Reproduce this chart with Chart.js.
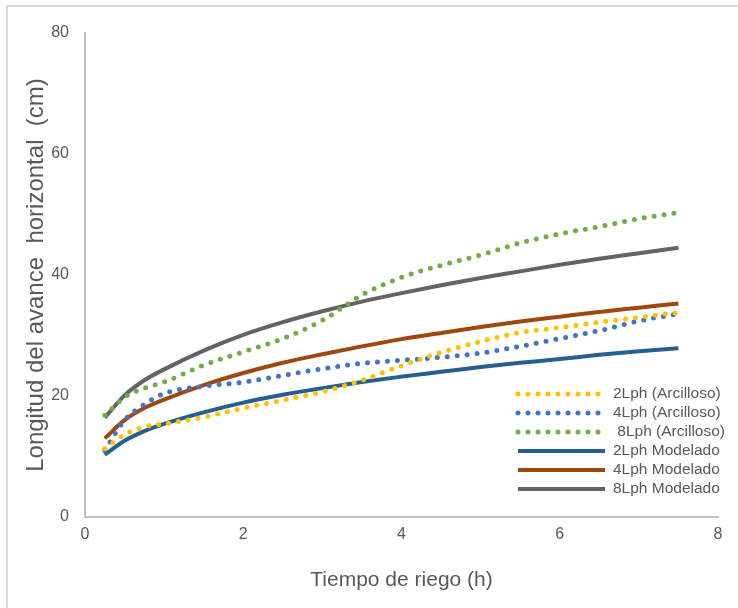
<!DOCTYPE html>
<html>
<head>
<meta charset="utf-8">
<script src="https://cdn.jsdelivr.net/npm/chart.js@4/dist/chart.umd.min.js"></script>
<style>
  body { margin: 0; background: #fff; }
  #wrap { position: relative; width: 738px; height: 608px; }
  #frame { position: absolute; left: 6px; top: 5px; width: 740px; height: 610px; border-left: 2px solid #d9d9d9; border-top: 2px solid #d9d9d9; pointer-events: none; }
</style>
</head>
<body>
<div id="wrap">
  <canvas id="riegoChart" width="738" height="608"></canvas>
  <div id="frame"></div>
</div>
<script>
// DATA
const hours = [0.25, 0.5, 0.75, 1, 1.5, 2, 2.5, 3, 3.5, 4, 4.5, 5, 5.5, 6, 6.5, 7, 7.5];

const arcilloso2 = [11.3, 13.6, 14.9, 15.4, 16.5, 18.0, 19.3, 20.7, 22.6, 25.0, 27.2, 29.0, 30.5, 31.3, 32.2, 33.0, 33.8];
const arcilloso4 = [11.0, 16.0, 18.6, 20.4, 21.6, 22.3, 23.4, 24.5, 25.4, 25.9, 26.4, 27.1, 28.2, 29.5, 30.8, 32.4, 33.6];
const arcilloso8 = [16.8, 19.8, 21.3, 22.3, 25.1, 27.3, 29.5, 32.5, 36.7, 39.6, 41.6, 43.3, 45.3, 46.8, 48.0, 49.3, 50.3];
const modelado2 = [10.3, 12.6, 14.2, 15.4, 17.3, 18.9, 20.2, 21.3, 22.3, 23.2, 24.0, 24.8, 25.5, 26.1, 26.8, 27.4, 27.9];
const modelado4 = [13.0, 16.0, 18.0, 19.4, 21.8, 23.8, 25.5, 26.9, 28.2, 29.4, 30.4, 31.4, 32.3, 33.1, 33.9, 34.6, 35.3];
const modelado8 = [16.4, 20.1, 22.6, 24.4, 27.5, 30.1, 32.2, 34.0, 35.6, 37.0, 38.3, 39.5, 40.6, 41.7, 42.7, 43.6, 44.5];

const xTicks = [0, 2, 4, 6, 8];
const yTicks = [0, 20, 40, 60, 80];

const toPoints = (values) => hours.map((h, i) => ({ x: h, y: values[i] }));

const fontFamily = "'Liberation Sans', Arial, sans-serif";
const labelColor = '#595959';

// dotted series share the same look
const dotted = (label, values, color) => ({
    label: label,
    data: toPoints(values),
    borderColor: color,
    backgroundColor: color,
    borderWidth: 5,
    borderDash: [0, 10],
    borderCapStyle: 'round',
    pointRadius: 0,
    cubicInterpolationMode: 'monotone',
    fill: false,
});

const solid = (label, values, color) => ({
    label: label,
    data: toPoints(values),
    borderColor: color,
    backgroundColor: color,
    borderWidth: 4,
    borderCapStyle: 'butt',
    pointRadius: 0,
    cubicInterpolationMode: 'monotone',
    fill: false,
});

// LEGEND drawn inside the plot, lower right
const insideLegend = {
    id: 'insideLegend',
    afterDraw(chart) {
        const ctx = chart.ctx;
        const left = 518, right = 605, textX = 613, top = 394, step = 19;
        chart.data.datasets.forEach((ds, i) => {
            const y = top + i * step;
            ctx.save();
            ctx.strokeStyle = ds.borderColor;
            ctx.lineWidth = ds.borderWidth;
            ctx.lineCap = ds.borderCapStyle;
            ctx.setLineDash(ds.borderDash || []);
            ctx.beginPath();
            ctx.moveTo(left, y);
            ctx.lineTo(right, y);
            ctx.stroke();
            ctx.setLineDash([]);
            ctx.fillStyle = labelColor;
            ctx.font = "15.5px " + fontFamily;
            ctx.textBaseline = 'middle';
            ctx.fillText(ds.label, textX, y);
            ctx.restore();
        });
    }
};

const ctx = document.getElementById('riegoChart').getContext('2d');
const riegoChart = new Chart(ctx, {
    type: 'line',
    data: {
        datasets: [
            dotted('2Lph (Arcilloso)', arcilloso2, '#FFC000'),
            dotted('4Lph (Arcilloso)', arcilloso4, '#4472C4'),
            dotted(' 8Lph (Arcilloso)', arcilloso8, '#70AD47'),
            solid('2Lph Modelado', modelado2, '#255E91'),
            solid('4Lph Modelado', modelado4, '#9E480E'),
            solid('8Lph Modelado', modelado8, '#636363'),
        ]
    },
    options: {
        responsive: false,
        animation: false,
        layout: {
            padding: { top: 33, right: 20, left: 0, bottom: 0 }
        },
        scales: {
            x: {
                type: 'linear',
                min: 0,
                max: 8,
                afterFit: (scale) => { scale.height = 91; },
                afterBuildTicks: (scale) => { scale.ticks = xTicks.map(v => ({ value: v })); },
                grid: { display: false },
                border: { display: true, color: '#bfbfbf', width: 2 },
                ticks: {
                    color: labelColor,
                    padding: 0,
                    font: { family: fontFamily, size: 16 },
                },
                title: {
                    display: true,
                    text: 'Tiempo de riego (h)',
                    color: labelColor,
                    padding: { top: 0, bottom: 15 },
                    font: { family: fontFamily, size: 21 },
                },
            },
            y: {
                min: 0,
                max: 80,
                afterFit: (scale) => { scale.width = 85; },
                afterBuildTicks: (scale) => { scale.ticks = yTicks.map(v => ({ value: v })); },
                grid: { display: false },
                border: { display: true, color: '#bfbfbf', width: 2 },
                ticks: {
                    color: labelColor,
                    padding: 8,
                    font: { family: fontFamily, size: 16 },
                },
                title: {
                    display: true,
                    text: 'Longitud del avance  horizontal  (cm)',
                    color: labelColor,
                    padding: { top: 22, bottom: 0 },
                    font: { family: fontFamily, size: 24 },
                },
            },
        },
        plugins: {
            legend: { display: false },
            tooltip: { enabled: false },
        }
    },
    plugins: [insideLegend]
});
</script>
</body>
</html>
